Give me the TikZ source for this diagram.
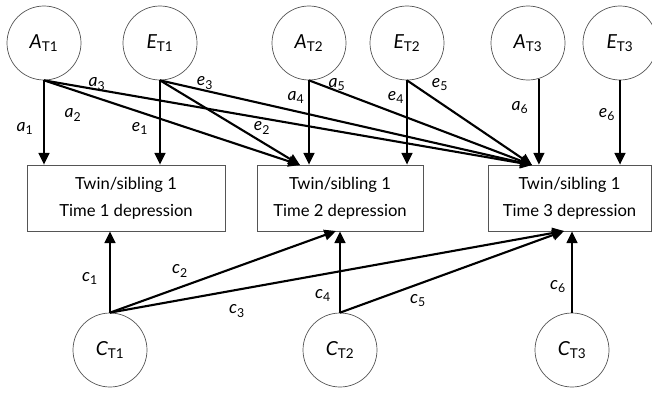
\documentclass[tikz,border=0pt]{standalone}
\usepackage{fontspec}
\setmainfont{Lato}
\usetikzlibrary{arrows.meta}
\definecolor{edgegray}{RGB}{85,85,85}
\newcommand{\latvar}[2]{{\itshape #1}\textsubscript{#2}}
\newcommand{\coef}[2]{{\itshape #1}\textsubscript{#2}}

\begin{document}
\begin{tikzpicture}[
    x=0.03cm,y=-0.03cm,
    latent/.style={circle,draw=edgegray,line width=0.6pt,minimum size=2.22cm,
      inner sep=0pt,font=\fontsize{16.5}{18}\selectfont},
    obs/.style={rectangle,draw=edgegray,line width=0.6pt,minimum height=1.98cm,
      align=center,inner sep=0pt,font=\fontsize{14.2}{23}\selectfont},
    lbl/.style={inner sep=0pt,font=\fontsize{15}{17}\selectfont},
    arrow/.style={-{Triangle[length=3.5mm,width=3.2mm]},line width=1.8pt}
  ]
    \useasboundingbox (0,0) rectangle (652,392);
    % latent factors, top row
    \node[latent] (AT1) at (44,43) {\latvar{A}{T1}};
    \node[latent] (ET1) at (160,43) {\latvar{E}{T1}};
    \node[latent] (AT2) at (309,43) {\latvar{A}{T2}};
    \node[latent] (ET2) at (407,43) {\latvar{E}{T2}};
    \node[latent] (AT3) at (528,43) {\latvar{A}{T3}};
    \node[latent] (ET3) at (620,43) {\latvar{E}{T3}};
    % observed depression
    \node[obs,minimum width=5.94cm] (D1) at (126,198) {Twin/sibling 1\\Time 1 depression};
    \node[obs,minimum width=4.98cm] (D2) at (340,198) {Twin/sibling 1\\Time 2 depression};
    \node[obs,minimum width=4.89cm] (D3) at (569.5,198) {Twin/sibling 1\\Time 3 depression};
    % shared environment, bottom row
    \node[latent] (CT1) at (110,350) {\latvar{C}{T1}};
    \node[latent] (CT2) at (340,350) {\latvar{C}{T2}};
    \node[latent] (CT3) at (572,350) {\latvar{C}{T3}};
    \coordinate (D2top) at (300,165);
    \coordinate (D3top) at (532,165);
    \coordinate (D2bot) at (336,231);
    \coordinate (D3bot) at (564,231);
    \draw[arrow] (AT1.south) -- (AT1.south |- D1.north);
    \draw[arrow] (AT1.south) -- (D2top);
    \draw[arrow] (AT1.south) -- (D3top);
    \draw[arrow] (ET1.south) -- (ET1.south |- D1.north);
    \draw[arrow] (ET1.south) -- (D2top);
    \draw[arrow] (ET1.south) -- (D3top);
    \draw[arrow] (AT2.south) -- (AT2.south |- D2.north);
    \draw[arrow] (AT2.south) -- (D3top);
    \draw[arrow] (ET2.south) -- (ET2.south |- D2.north);
    \draw[arrow] (ET2.south) -- (D3top);
    \draw[arrow] (AT3.-73) -- (AT3.-73 |- D3.north);
    \draw[arrow] (ET3.south) -- (ET3.south |- D3.north);
    \draw[arrow] (CT1.north) -- (CT1.north |- D1.south);
    \draw[arrow] (CT1.north) -- (D2bot);
    \draw[arrow] (CT1.north) -- (D3bot);
    \draw[arrow] (CT2.north) -- (CT2.north |- D2.south);
    \draw[arrow] (CT2.north) -- (D3bot);
    \draw[arrow] (CT3.north) -- (CT3.north |- D3.south);
    % path labels
    \node[lbl] (la1) at (25,128) {\coef{a}{1}};
    \node[lbl] (la2) at (73,115) {\coef{a}{2}};
    \node[lbl] (la3) at (97,84) {\coef{a}{3}};
    \node[lbl] (le1) at (140,128) {\coef{e}{1}};
    \node[lbl] (le2) at (262,128) {\coef{e}{2}};
    \node[lbl] (le3) at (205,83) {\coef{e}{3}};
    \node[lbl] (la4) at (296,97) {\coef{a}{4}};
    \node[lbl] (la5) at (337,85) {\coef{a}{5}};
    \node[lbl] (le4) at (396,97) {\coef{e}{4}};
    \node[lbl] (le5) at (440,85) {\coef{e}{5}};
    \node[lbl] (la6) at (520,108) {\coef{a}{6}};
    \node[lbl] (le6) at (607,115) {\coef{e}{6}};
    \node[lbl] (lc1) at (90,278) {\coef{c}{1}};
    \node[lbl] (lc2) at (180,271) {\coef{c}{2}};
    \node[lbl] (lc3) at (237,311) {\coef{c}{3}};
    \node[lbl] (lc4) at (323,295) {\coef{c}{4}};
    \node[lbl] (lc5) at (418,301) {\coef{c}{5}};
    \node[lbl] (lc6) at (558,287) {\coef{c}{6}};
  \end{tikzpicture}
\end{document}
